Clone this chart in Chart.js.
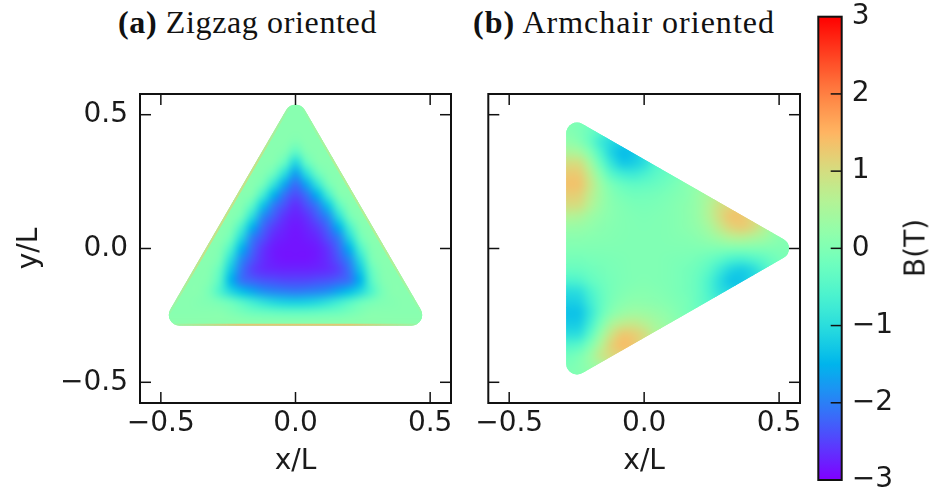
<!DOCTYPE html>
<html>
<head>
<meta charset="utf-8">
<title>Pseudo-magnetic field in strained graphene triangles</title>
<script src="https://cdn.jsdelivr.net/npm/chart.js@4.4.1/dist/chart.umd.min.js"></script>
<style>
  html, body { margin: 0; padding: 0; background: #fff; }
  #fig { position: relative; width: 933px; height: 491px; overflow: hidden; }
  #fig canvas { position: absolute; top: 0; }
  .title { position: absolute; top: 5px; font-family: "Liberation Serif", "Times New Roman", serif;
           font-size: 32px; line-height: 34px; color: #111; white-space: nowrap; }
  #cbLabel { position: absolute; left: 915px; top: 248px; transform: translate(-50%, -50%) rotate(-90deg);
             font-family: "DejaVu Sans", sans-serif; font-size: 28px; color: #1a1a1a; white-space: nowrap; }
</style>
</head>
<body>
<div id="fig">
  <div class="title" id="titleA" style="left:118px"><b>(a)</b> Zigzag oriented</div>
  <div class="title" id="titleB" style="left:473px"><b>(b)</b> Armchair oriented</div>
  <canvas id="panelA" width="470" height="491" style="left:0"></canvas>
  <canvas id="panelB" width="360" height="491" style="left:460px"></canvas>
  <canvas id="colorbar" width="128" height="491" style="left:805px"></canvas>
  <div id="cbLabel">B(T)</div>
</div>
<script>
// ---- axes and colour scale ----
const axisLimit = 0.5774;               // both axes span ±L/√3
const axisTicks = [-0.5, 0, 0.5];
const colorTicks = [-3, -2, -1, 0, 1, 2, 3];
const colorMin = -3, colorMax = 3;

// ---- sample outlines (side L = 1, corners rounded) ----
const outlineAX = [0, 0.5, -0.5];
const outlineAY = [0.5774, -0.2887, -0.2887];
const outlineBX = [0.5774, -0.2887, -0.2887];
const outlineBY = [0, -0.5, 0.5];
const cornerRadius = 0.04;
// field right at the zigzag edges (right, bottom, left), in tesla
const edgeFieldA = [0.8, 1.5, 1.1];

// ---- (a) zigzag oriented: B in tesla, one row per y/L grid line ----
const n = null;
const gridXA = [-0.48,-0.44,-0.40,-0.36,-0.32,-0.28,-0.24,-0.20,-0.16,-0.12,-0.08,-0.04,0,
                0.04,0.08,0.12,0.16,0.20,0.24,0.28,0.32,0.36,0.40,0.44,0.48];
const gridYA = [-0.28,-0.24,-0.20,-0.16,-0.12,-0.08,-0.04,0,0.04,0.08,0.12,0.16,0.20,0.24,
                0.28,0.32,0.36,0.40,0.44,0.48,0.52];
const fieldA = [
  [0.15,0.15,0.15,0.15,0.15,0.15,0.15,0.15,0.15,0.15,0.15,0.15,0.15,0.15,0.15,0.15,0.15,0.15,0.15,0.15,0.15,0.15,0.15,0.15,0.15],
  [0.1,0.1,0.1,0.1,0.1,0.1,0,-0.1,-0.2,-0.25,-0.3,-0.33,-0.35,-0.33,-0.3,-0.25,-0.2,-0.1,0,0.1,0.1,0.1,0.1,0.1,0.1],
  [n,0.1,0.1,0.05,0,-0.1,-0.25,-0.5,-0.75,-0.95,-1.1,-1.18,-1.2,-1.18,-1.1,-0.95,-0.75,-0.5,-0.25,-0.1,0,0.05,0.1,0.1,n],
  [n,0.1,0.1,0.1,-0.1,-0.6,-1.1,-1.4,-1.65,-1.85,-1.95,-2,-2.05,-2,-1.95,-1.85,-1.65,-1.4,-1.1,-0.6,-0.1,0.1,0.1,0.1,n],
  [n,n,0.1,0.1,0,-0.5,-1.5,-2.1,-2.25,-2.35,-2.4,-2.45,-2.45,-2.45,-2.4,-2.35,-2.25,-2.1,-1.5,-0.5,0,0.1,0.1,n,n],
  [n,n,0.1,0.1,0.05,-0.35,-1.3,-2.1,-2.5,-2.65,-2.7,-2.72,-2.72,-2.72,-2.7,-2.65,-2.5,-2.1,-1.3,-0.35,0.05,0.1,0.1,n,n],
  [n,n,n,0.1,0.1,-0.1,-1,-1.9,-2.35,-2.65,-2.8,-2.85,-2.85,-2.85,-2.8,-2.65,-2.35,-1.9,-1,-0.1,0.1,0.1,n,n,n],
  [n,n,n,0.1,0.1,0,-0.6,-1.55,-2.2,-2.6,-2.8,-2.85,-2.85,-2.85,-2.8,-2.6,-2.2,-1.55,-0.6,0,0.1,0.1,n,n,n],
  [n,n,n,n,0.1,0.1,-0.2,-1.1,-2,-2.4,-2.7,-2.8,-2.85,-2.8,-2.7,-2.4,-2,-1.1,-0.2,0.1,0.1,n,n,n,n],
  [n,n,n,n,n,0.1,0,-0.65,-1.55,-2.2,-2.55,-2.73,-2.83,-2.73,-2.55,-2.2,-1.55,-0.65,0,0.1,n,n,n,n,n],
  [n,n,n,n,n,0.1,0.1,-0.15,-1,-1.9,-2.3,-2.62,-2.75,-2.62,-2.3,-1.9,-1,-0.15,0.1,0.1,n,n,n,n,n],
  [n,n,n,n,n,n,0.1,0.05,-0.45,-1.35,-2.05,-2.4,-2.65,-2.4,-2.05,-1.35,-0.45,0.05,0.1,n,n,n,n,n,n],
  [n,n,n,n,n,n,0.1,0.1,0,-0.72,-1.53,-2.12,-2.42,-2.12,-1.53,-0.72,0,0.1,0.1,n,n,n,n,n,n],
  [n,n,n,n,n,n,n,0.1,0.1,-0.15,-0.9,-1.65,-2.15,-1.65,-0.9,-0.15,0.1,0.1,n,n,n,n,n,n,n],
  [n,n,n,n,n,n,n,0.1,0.1,0.05,-0.27,-1,-1.7,-1,-0.27,0.05,0.1,0.1,n,n,n,n,n,n,n],
  [n,n,n,n,n,n,n,n,0.1,0.1,0.05,-0.35,-1.1,-0.35,0.05,0.1,0.1,n,n,n,n,n,n,n,n],
  [n,n,n,n,n,n,n,n,n,0.1,0.1,0,-0.4,0,0.1,0.1,n,n,n,n,n,n,n,n,n],
  [n,n,n,n,n,n,n,n,n,0.1,0.1,0.1,0,0.1,0.1,0.1,n,n,n,n,n,n,n,n,n],
  [n,n,n,n,n,n,n,n,n,n,0.1,0.1,0.1,0.1,0.1,n,n,n,n,n,n,n,n,n,n],
  [n,n,n,n,n,n,n,n,n,n,0.1,0.1,0.1,0.1,0.1,n,n,n,n,n,n,n,n,n,n],
  [n,n,n,n,n,n,n,n,n,n,n,0.1,0.1,0.1,n,n,n,n,n,n,n,n,n,n,n]
];

// ---- (b) armchair oriented: rows start at the left edge x/L = -0.28 ----
const gridXB = [-0.28,-0.24,-0.20,-0.16,-0.12,-0.08,-0.04,0,0.04,0.08,0.12,0.16,0.20,0.24,
                0.28,0.32,0.36,0.40,0.44,0.48,0.52];
const gridYB = [0.48,0.44,0.40,0.36,0.32,0.28,0.24,0.20,0.16,0.12,0.08,0.04,0,
                -0.04,-0.08,-0.12,-0.16,-0.20,-0.24,-0.28,-0.32,-0.36,-0.40,-0.44,-0.48];
const fieldB = [
  [0,-0.03,-0.1],
  [0.05,-0.05,-0.25,-0.45],
  [0.2,0.05,-0.3,-0.8,-1.05,-1.15],
  [0.55,0.45,0,-0.6,-1.15,-1.4,-1.3,-0.95],
  [1,0.95,0.4,-0.3,-0.9,-1.25,-1.2,-1,-0.6],
  [1.25,1.2,0.7,0.05,-0.5,-0.75,-0.8,-0.65,-0.45,-0.3,-0.15],
  [1.35,1.3,0.85,0.3,-0.1,-0.3,-0.38,-0.35,-0.28,-0.18,-0.05,0.1,0.2],
  [1.2,1.15,0.75,0.35,0.05,-0.1,-0.17,-0.16,-0.12,-0.06,0.02,0.1,0.3,0.5,0.7],
  [1,0.95,0.6,0.3,0.1,0,-0.06,-0.08,-0.05,-0.01,0.06,0.15,0.3,0.6,0.95,1.1],
  [0.6,0.55,0.35,0.2,0.1,0.03,-0.01,-0.03,-0.01,0.02,0.07,0.15,0.3,0.6,1,1.3,1.3,1.1],
  [0.3,0.28,0.2,0.12,0.07,0.03,0,-0.01,0,0.02,0.07,0.13,0.24,0.45,0.8,1.1,1.2,1.05,0.7,0.3],
  [0.12,0.12,0.09,0.06,0.04,0.02,0,0,0,0.02,0.04,0.07,0.13,0.25,0.42,0.6,0.65,0.55,0.4,0.2,0.06],
  [0,0,0,0,0,0,0,0,0,0,0,0,0,0,0,0,0,0,0,0,0],
  [-0.12,-0.12,-0.09,-0.06,-0.04,-0.02,0,0,0,-0.02,-0.04,-0.07,-0.13,-0.25,-0.42,-0.6,-0.65,-0.55,-0.4,-0.2,-0.06],
  [-0.3,-0.28,-0.2,-0.12,-0.07,-0.03,0,0.01,0,-0.02,-0.07,-0.13,-0.24,-0.45,-0.8,-1.1,-1.2,-1.05,-0.7,-0.3],
  [-0.6,-0.55,-0.35,-0.2,-0.1,-0.03,0.01,0.03,0.01,-0.02,-0.07,-0.15,-0.3,-0.6,-1,-1.3,-1.3,-1.1],
  [-1,-0.95,-0.6,-0.3,-0.1,0,0.06,0.08,0.05,0.01,-0.06,-0.15,-0.3,-0.6,-0.95,-1.1],
  [-1.2,-1.15,-0.75,-0.35,-0.05,0.1,0.17,0.16,0.12,0.06,-0.02,-0.1,-0.3,-0.5,-0.7],
  [-1.35,-1.3,-0.85,-0.3,0.1,0.3,0.38,0.35,0.28,0.18,0.05,-0.1,-0.2],
  [-1.25,-1.2,-0.7,-0.05,0.5,0.75,0.8,0.65,0.45,0.3,0.15],
  [-1,-0.95,-0.4,0.3,0.9,1.25,1.2,1,0.6],
  [-0.55,-0.45,0,0.6,1.15,1.4,1.3,0.95],
  [-0.2,-0.05,0.3,0.8,1.05,1.15],
  [-0.05,0.05,0.25,0.45],
  [0,0.03,0.1]
];

// ---- colour map (matplotlib "rainbow") ----
function rainbowRGB(v) {
  const t = Math.min(1, Math.max(0, (v - colorMin) / (colorMax - colorMin)));
  const r = Math.min(1, Math.abs(2 * t - 0.5));
  const g = Math.sin(Math.PI * t);
  const b = Math.cos(Math.PI * t / 2);
  return [Math.round(r * 255), Math.round(g * 255), Math.round(b * 255)];
}
function rainbow(v, alpha) {
  const c = rainbowRGB(v);
  return alpha === undefined
    ? 'rgb(' + c[0] + ',' + c[1] + ',' + c[2] + ')'
    : 'rgba(' + c[0] + ',' + c[1] + ',' + c[2] + ',' + alpha + ')';
}

function cellPoints(xs, ys, rows) {
  const pts = [];
  rows.forEach((row, i) => row.forEach((v, j) => {
    if (v !== null && v !== undefined) pts.push({ x: xs[j], y: ys[i], v: v });
  }));
  return pts;
}

function fmtTick(v) {
  const s = Math.abs(v).toFixed(1);
  return v < 0 ? '\u2212' + s : s;
}

const tickFont = { family: 'DejaVu Sans', size: 28 };
const inkColor = '#1a1a1a';

// keep the plot areas where they are set, without extra room for end labels
function noEndPadding(s) {
  s.paddingTop = 0; s.paddingBottom = 0; s.paddingLeft = 0; s.paddingRight = 0;
}

function outlinePixels(chart, xs, ys) {
  const { scales } = chart;
  return {
    px: xs.map(v => scales.x.getPixelForValue(v)),
    py: ys.map(v => scales.y.getPixelForValue(v))
  };
}

// clip the field to the rounded sample outline
const outlineClip = {
  id: 'outlineClip',
  beforeDatasetsDraw(chart, args, opts) {
    const { ctx, scales } = chart;
    const { px, py } = outlinePixels(chart, opts.xs, opts.ys);
    const rad = Math.abs(scales.x.getPixelForValue(opts.r) - scales.x.getPixelForValue(0));
    ctx.save();
    ctx.beginPath();
    const k = px.length;
    ctx.moveTo((px[0] + px[1]) / 2, (py[0] + py[1]) / 2);
    for (let i = 1; i <= k; i++) {
      const a = i % k, b = (i + 1) % k;
      ctx.arcTo(px[a], py[a], px[b], py[b], rad);
    }
    ctx.closePath();
    ctx.clip();
  },
  afterDatasetsDraw(chart) {
    chart.ctx.restore();
  }
};

// shade the cell grid as an image with bilinear smoothing (imshow-style),
// placed on the plot through the chart's x and y scales
const fieldShading = {
  id: 'fieldShading',
  afterDatasetsDraw(chart, args, opts) {
    const { ctx, scales } = chart;
    const xs = opts.xs, ys = opts.ys, rows = opts.rows;
    const nx = xs.length, ny = ys.length;
    const descending = ys[0] > ys[ny - 1];
    const vals = [];
    for (let r = 0; r < ny; r++) {
      const i = descending ? r : ny - 1 - r;
      const row = rows[i] || [];
      const line = [];
      for (let j = 0; j < nx; j++) {
        const v = row[j];
        line.push(v === null || v === undefined ? null : v);
      }
      vals.push(line);
    }
    // carry edge cells outward so the smoothing never blends with empty cells
    for (let pass = 0; pass < 3; pass++) {
      const copy = vals.map(l => l.slice());
      for (let r = 0; r < ny; r++) for (let j = 0; j < nx; j++) {
        if (copy[r][j] !== null) continue;
        let s = 0, c = 0;
        [[1,0],[-1,0],[0,1],[0,-1]].forEach(([dr, dj]) => {
          const rr = r + dr, jj = j + dj;
          if (rr >= 0 && rr < ny && jj >= 0 && jj < nx && copy[rr][jj] !== null) { s += copy[rr][jj]; c++; }
        });
        if (c) vals[r][j] = s / c;
      }
    }
    const off = document.createElement('canvas');
    off.width = nx; off.height = ny;
    const octx = off.getContext('2d');
    const img = octx.createImageData(nx, ny);
    for (let r = 0; r < ny; r++) for (let j = 0; j < nx; j++) {
      const v = vals[r][j];
      const k = (r * nx + j) * 4;
      if (v === null) { img.data[k + 3] = 0; continue; }
      const c = rainbowRGB(v);
      img.data[k] = c[0]; img.data[k + 1] = c[1]; img.data[k + 2] = c[2]; img.data[k + 3] = 255;
    }
    octx.putImageData(img, 0, 0);
    const hx = Math.abs(xs[1] - xs[0]) / 2, hy = Math.abs(ys[1] - ys[0]) / 2;
    const xMin = Math.min(...xs) - hx, xMax = Math.max(...xs) + hx;
    const yMin = Math.min(...ys) - hy, yMax = Math.max(...ys) + hy;
    const x0 = scales.x.getPixelForValue(xMin), x1 = scales.x.getPixelForValue(xMax);
    const y0 = scales.y.getPixelForValue(yMax), y1 = scales.y.getPixelForValue(yMin);
    ctx.save();
    ctx.imageSmoothingEnabled = true;
    ctx.imageSmoothingQuality = 'high';
    ctx.drawImage(off, x0, y0, x1 - x0, y1 - y0);
    ctx.restore();
  }
};

// thin band of edge field along each side, fading towards the corners
const edgeBand = {
  id: 'edgeBand',
  afterDatasetsDraw(chart, args, opts) {
    if (!opts.vals) return;
    const { ctx } = chart;
    const { px, py } = outlinePixels(chart, opts.xs, opts.ys);
    const k = px.length;
    ctx.save();
    ctx.lineWidth = opts.width;
    for (let i = 0; i < k; i++) {
      const a = i, b = (i + 1) % k;
      const g = ctx.createLinearGradient(px[a], py[a], px[b], py[b]);
      g.addColorStop(0, rainbow(opts.vals[i], 0));
      g.addColorStop(0.3, rainbow(opts.vals[i], 0.75));
      g.addColorStop(0.7, rainbow(opts.vals[i], 0.75));
      g.addColorStop(1, rainbow(opts.vals[i], 0));
      ctx.strokeStyle = g;
      ctx.beginPath();
      ctx.moveTo(px[a], py[a]);
      ctx.lineTo(px[b], py[b]);
      ctx.stroke();
    }
    ctx.restore();
  }
};

// frame around the plot area with inward tick marks
const frame = {
  id: 'frame',
  afterDraw(chart, args, opts) {
    const { ctx, chartArea: a, scales } = chart;
    const L = opts.len;
    ctx.save();
    ctx.strokeStyle = '#111';
    ctx.lineWidth = 1.5;
    const seg = (x1, y1, x2, y2) => { ctx.beginPath(); ctx.moveTo(x1, y1); ctx.lineTo(x2, y2); ctx.stroke(); };
    if (opts.xTicks) {
      scales.x.ticks.forEach(t => {
        const p = scales.x.getPixelForValue(t.value);
        seg(p, a.bottom, p, a.bottom - L);
        seg(p, a.top, p, a.top + L);
      });
    }
    if (opts.yTicks) {
      scales.y.ticks.forEach(t => {
        if (opts.skipEnds && (t.value === scales.y.min || t.value === scales.y.max)) return;
        const p = scales.y.getPixelForValue(t.value);
        if (opts.yLeft) seg(a.left, p, a.left + L, p);
        if (opts.yRight) seg(a.right, p, a.right - L, p);
      });
    }
    ctx.lineWidth = 2;
    ctx.strokeRect(a.left, a.top, a.right - a.left, a.bottom - a.top);
    ctx.restore();
  }
};

function cellRadius(chart, step) {
  const xs = chart.scales.x;
  const side = Math.abs(xs.getPixelForValue(step) - xs.getPixelForValue(0));
  return side / Math.SQRT2 * 1.06;
}

function panel(canvasId, xs, ys, rows, outX, outY, edgeVals, area, showYLabels) {
  const step = Math.abs(xs[1] - xs[0]);
  return new Chart(document.getElementById(canvasId), {
    type: 'scatter',
    data: {
      datasets: [{
        data: cellPoints(xs, ys, rows),
        pointStyle: 'rect',
        pointRadius: ctx => cellRadius(ctx.chart, step),
        backgroundColor: ctx => ctx.raw ? rainbow(ctx.raw.v) : '#000',
        borderWidth: 0
      }]
    },
    options: {
      responsive: false,
      animation: false,
      devicePixelRatio: 1,
      events: [],
      layout: { padding: { left: 0, top: area.top, right: area.right, bottom: 0 } },
      scales: {
        x: {
          type: 'linear', min: -axisLimit, max: axisLimit,
          afterBuildTicks: s => { s.ticks = axisTicks.map(v => ({ value: v })); },
          afterFit: s => { s.height = area.xAxisH; noEndPadding(s); },
          grid: { display: false, drawTicks: false },
          border: { display: false },
          ticks: { font: tickFont, color: inkColor, padding: 4, maxRotation: 0, autoSkip: false,
                   callback: v => fmtTick(v) },
          title: { display: true, text: 'x/L', font: tickFont, color: inkColor, padding: { bottom: 12 } }
        },
        y: {
          type: 'linear', min: -axisLimit, max: axisLimit,
          afterBuildTicks: s => { s.ticks = axisTicks.map(v => ({ value: v })); },
          afterFit: s => { s.width = area.yAxisW; noEndPadding(s); },
          grid: { display: false, drawTicks: false },
          border: { display: false },
          ticks: { display: showYLabels, font: tickFont, color: inkColor, padding: 12, autoSkip: false,
                   callback: v => fmtTick(v) },
          title: { display: showYLabels, text: 'y/L', font: tickFont, color: inkColor, padding: { top: 13 } }
        }
      },
      plugins: {
        legend: { display: false },
        tooltip: { enabled: false },
        fieldShading: { xs: xs, ys: ys, rows: rows },
        edgeBand: { xs: outX, ys: outY, vals: edgeVals, width: 4 },
        outlineClip: { xs: outX, ys: outY, r: cornerRadius },
        frame: { len: 11, xTicks: true, yTicks: true, yLeft: true, yRight: true }
      }
    },
    plugins: [fieldShading, edgeBand, outlineClip, frame]
  });
}

Chart.defaults.font.family = 'DejaVu Sans';

panel('panelA', gridXA, gridYA, fieldA, outlineAX, outlineAY, edgeFieldA,
      { top: 94, right: 19, xAxisH: 88, yAxisW: 140 }, true);
panel('panelB', gridXB, gridYB, fieldB, outlineBX, outlineBY, null,
      { top: 94, right: 20, xAxisH: 88, yAxisW: 28.3 }, false);

// ---- colour bar ----
function barGradient(chart) {
  const a = chart.chartArea;
  if (!a) return '#888';
  const g = chart.ctx.createLinearGradient(0, a.bottom, 0, a.top);
  const stops = 60;
  for (let i = 0; i <= stops; i++) {
    g.addColorStop(i / stops, rainbow(colorMin + (colorMax - colorMin) * i / stops));
  }
  return g;
}

new Chart(document.getElementById('colorbar'), {
  type: 'bar',
  data: {
    labels: ['B'],
    datasets: [{
      data: [[colorMin, colorMax]],
      backgroundColor: ctx => barGradient(ctx.chart),
      borderWidth: 0,
      barPercentage: 1,
      categoryPercentage: 1
    }]
  },
  options: {
    responsive: false,
    animation: false,
    devicePixelRatio: 1,
    events: [],
    layout: { padding: { left: 13.3, top: 16.7, right: 0, bottom: 11 } },
    scales: {
      x: { display: false },
      y: {
        position: 'right', min: colorMin, max: colorMax,
        afterBuildTicks: s => { s.ticks = colorTicks.map(v => ({ value: v })); },
        afterFit: s => { s.width = 91.3; noEndPadding(s); },
        grid: { display: false, drawTicks: false },
        border: { display: false },
        ticks: { font: tickFont, color: inkColor, padding: 10, autoSkip: false,
                 callback: v => (v < 0 ? '\u2212' + Math.abs(v) : String(v)) }
      }
    },
    plugins: {
      legend: { display: false },
      tooltip: { enabled: false },
      frame: { len: 11, xTicks: false, yTicks: true, yLeft: false, yRight: true, skipEnds: true }
    }
  },
  plugins: [frame]
});

// stretch the serif titles to their set widths
function fitTitle(id, target) {
  const el = document.getElementById(id);
  const w = el.getBoundingClientRect().width;
  const chars = el.textContent.length;
  el.style.letterSpacing = ((target - w) / chars) + 'px';
}
fitTitle('titleA', 259);
fitTitle('titleB', 302);
</script>
</body>
</html>
